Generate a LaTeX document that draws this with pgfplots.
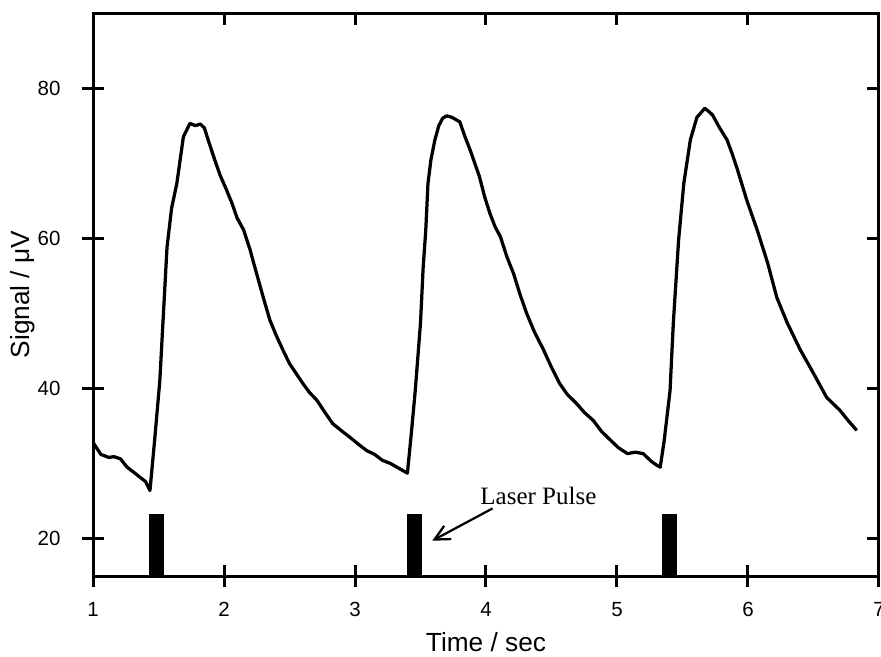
\documentclass[border=0pt]{standalone}
\usepackage{fontspec}
\setmainfont{Liberation Sans}
\newfontfamily\timesfont{Liberation Serif}
\usepackage{pgfplots}
\pgfplotsset{compat=1.18}
\usetikzlibrary{arrows.meta}

\begin{document}
\begin{tikzpicture}
  \path[use as bounding box] (-37.2pt,-32pt) rectangle (315.2pt,230.4pt);
  % main axis: data, labels, ticks on left/bottom
  \begin{axis}[
    scale only axis,
    width=314.4pt, height=225.2pt,
    xmin=1, xmax=7, ymin=15, ymax=90,
    xtick={1,2,3,4,5,6,7},
    ytick={20,40,60,80},
    xtick pos=bottom, ytick pos=left,
    tick align=center,
    major tick length=8.8pt,
    every tick/.style={black, line width=1.2pt},
    axis line style={line width=1.2pt},
    /pgf/number format/assume math mode=true,
    ticklabel style={font=\fontsize{8.2}{9}\selectfont},
    xticklabel style={anchor=center, yshift=-9.0pt},
    yticklabel style={anchor=east, inner sep=0pt, xshift=-8.4pt},
    xlabel={Time / sec},
    ylabel={Signal / μV},
    label style={font=\fontsize{10.5}{12}\selectfont},
    xlabel style={at={(axis description cs:0.5,-0.118)}, anchor=center},
    ylabel style={at={(axis description cs:-0.089,0.5)}, anchor=center},
  ]
    % signal trace
    \addplot[black, line width=1.3pt, line join=round] coordinates {
      (1.00,32.8)(1.03,32.0)(1.06,31.2)(1.09,31.0)(1.12,30.8)(1.16,30.9)
      (1.21,30.6)(1.26,29.5)(1.32,28.7)(1.37,28.0)(1.40,27.6)(1.435,26.4)
      (1.47,33.0)(1.51,41.0)(1.565,58.8)(1.60,64.0)(1.64,67.3)(1.69,73.5)
      (1.74,75.3)(1.78,75.0)(1.82,75.2)(1.85,74.7)(1.89,72.5)(1.93,70.4)
      (1.97,68.4)(2.02,66.4)(2.06,64.7)(2.10,62.7)(2.15,61.1)(2.20,58.4)
      (2.22,57.1)(2.26,54.6)(2.30,52.1)(2.35,49.1)(2.40,47.0)(2.45,45.1)
      (2.50,43.3)(2.55,42.0)(2.60,40.7)(2.65,39.5)(2.71,38.4)(2.77,36.8)
      (2.83,35.3)(2.90,34.3)(2.96,33.5)(3.03,32.5)(3.09,31.7)(3.15,31.2)
      (3.21,30.4)(3.27,30.0)(3.32,29.5)(3.37,29.0)(3.40,28.7)
      (3.43,34.0)(3.46,39.7)(3.50,48.7)(3.52,56.0)(3.54,61.0)(3.557,67.3)
      (3.58,70.5)(3.61,73.1)(3.64,75.0)(3.67,76.0)(3.70,76.3)(3.74,76.1)
      (3.77,75.8)(3.80,75.5)(3.84,73.5)(3.88,71.7)(3.95,68.2)(3.99,65.5)
      (4.03,63.3)(4.07,61.5)(4.11,60.2)(4.16,57.5)(4.21,55.3)(4.26,52.5)
      (4.31,50.0)(4.37,47.5)(4.44,45.1)(4.50,42.8)(4.56,40.7)(4.62,39.2)
      (4.69,38.0)(4.75,36.8)(4.82,35.7)(4.88,34.3)(4.95,33.1)(5.01,32.1)
      (5.08,31.3)(5.14,31.5)(5.20,31.3)(5.26,30.3)(5.30,29.8)(5.33,29.5)
      (5.36,33.0)(5.405,39.7)(5.43,48.7)(5.47,59.7)(5.51,67.3)(5.56,73.1)
      (5.61,76.1)(5.67,77.3)(5.70,76.9)(5.73,76.4)(5.78,74.8)(5.84,73.1)
      (5.88,71.2)(5.92,69.1)(5.99,65.1)(6.07,61.1)(6.15,56.7)(6.22,52.1)
      (6.30,48.7)(6.40,45.1)(6.50,42.0)(6.60,38.8)(6.70,37.1)(6.77,35.6)
      (6.83,34.4)
    };
    % laser pulses
    \addplot[fill=black, draw=none] coordinates {(1.43,15)(1.43,23.2)(1.54,23.2)(1.54,15)} -- cycle;
    \addplot[fill=black, draw=none] coordinates {(3.40,15)(3.40,23.2)(3.51,23.2)(3.51,15)} -- cycle;
    \addplot[fill=black, draw=none] coordinates {(5.34,15)(5.34,23.2)(5.46,23.2)(5.46,15)} -- cycle;
    \draw[-{Straight Barb[length=6pt,width=6pt]}, line width=0.9pt]
      (axis cs:4.05,24.0) -- (axis cs:3.59,19.7);
    \node[font=\timesfont\fontsize{10}{12}\selectfont] at (axis cs:4.40,25.7) {Laser Pulse};
  \end{axis}
  % overlay axis: inward ticks on top and right
  \begin{axis}[
    scale only axis,
    width=314.4pt, height=225.2pt,
    xmin=1, xmax=7, ymin=15, ymax=90,
    xtick={1,2,3,4,5,6,7},
    ytick={20,40,60,80},
    xtick pos=top, ytick pos=right,
    tick align=inside,
    major tick length=4.6pt,
    every tick/.style={black, line width=1.2pt},
    axis line style={line width=1.2pt},
    xticklabels={}, yticklabels={},
  ]
  \end{axis}
\end{tikzpicture}
\end{document}
